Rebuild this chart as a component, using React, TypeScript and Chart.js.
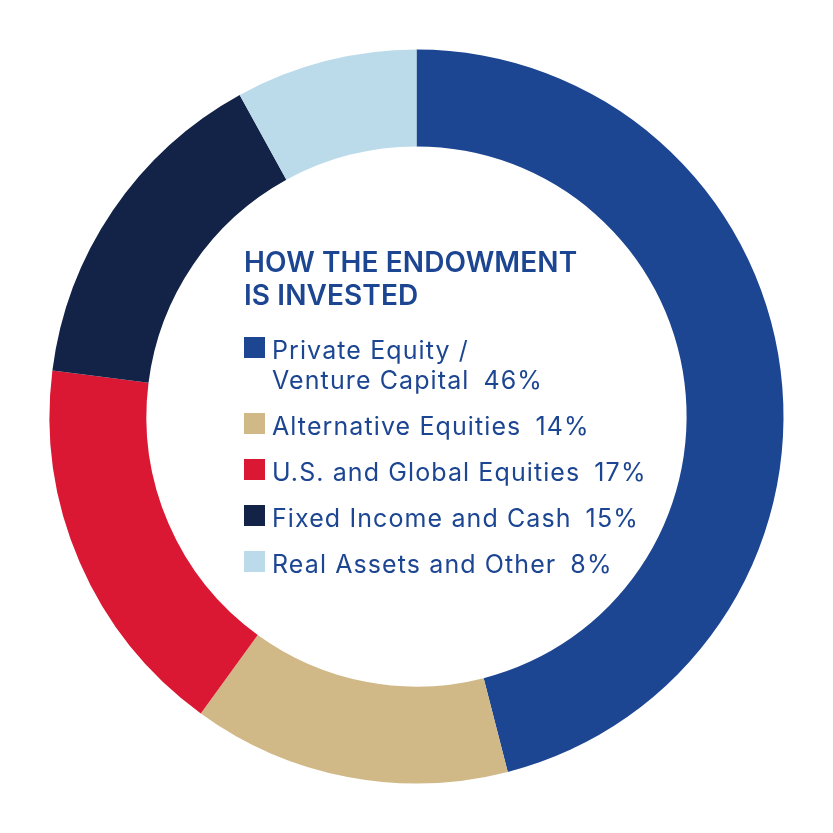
import React, { useEffect, useRef } from "react";
import { Chart, registerables } from "chart.js";

Chart.register(...registerables);

const categories = [
  "Private Equity / Venture Capital",
  "Alternative Equities",
  "U.S. and Global Equities",
  "Fixed Income and Cash",
  "Real Assets and Other",
];
// Legend lines (first item wraps onto two lines)
const legendLines: string[][] = [
  ["Private Equity /", "Venture Capital"],
  ["Alternative Equities"],
  ["U.S. and Global Equities"],
  ["Fixed Income and Cash"],
  ["Real Assets and Other"],
];
const shares = [46, 14, 17, 15, 8];
const colors = ["#1C4592", "#D0B887", "#DA1834", "#132347", "#BCDBEA"];
const titleLines = ["HOW THE ENDOWMENT", "IS INVESTED"];

const TEXT = "#1C4592";
const FONT = "Inter, 'Noto Sans', sans-serif";

export default function App() {
  const ref = useRef<HTMLCanvasElement | null>(null);

  useEffect(() => {
    if (!ref.current) return;
    const chart = new Chart(ref.current, {
      type: "doughnut",
      data: {
        labels: categories,
        datasets: [
          {
            data: shares,
            backgroundColor: colors,
            borderWidth: 0,
            hoverOffset: 0,
          },
        ],
      },
      options: {
        responsive: false,
        animation: false,
        radius: 367,
        cutout: "73.6%",
        layout: { padding: 0 },
        plugins: {
          legend: { display: false },
          tooltip: { enabled: false },
        },
      } as any,
    });
    return () => chart.destroy();
  }, []);

  return (
    <div style={{ position: "absolute", left: 0, top: 0, width: 833, height: 833, background: "#fff" }}>
      <canvas ref={ref} width={833} height={833} style={{ position: "absolute", left: 0, top: 0 }} />
      <div
        style={{
          position: "absolute",
          left: 244,
          top: 246,
          fontFamily: FONT,
          color: TEXT,
        }}
      >
        <div style={{ fontSize: 28, fontWeight: 600, lineHeight: "33px", letterSpacing: 0.1 }}>
          {titleLines.map((t) => (
            <div key={t}>{t}</div>
          ))}
        </div>
        <div style={{ marginTop: 23 }}>
          {legendLines.map((lines, i) => (
            <div
              key={i}
              style={{
                position: "relative",
                paddingLeft: 28,
                marginBottom: 16,
                fontSize: 25,
                lineHeight: "30px",
                letterSpacing: 1.1,
              }}
            >
              <span
                style={{
                  position: "absolute",
                  left: 0,
                  top: 2,
                  width: 21,
                  height: 21,
                  background: colors[i],
                }}
              />
              {lines.map((l, j) => (
                <div key={j} style={{ whiteSpace: "nowrap" }}>
                  {l}
                  {j === lines.length - 1 ? (
                    <span style={{ marginLeft: 14 }}>{shares[i]}%</span>
                  ) : null}
                </div>
              ))}
            </div>
          ))}
        </div>
      </div>
    </div>
  );
}
